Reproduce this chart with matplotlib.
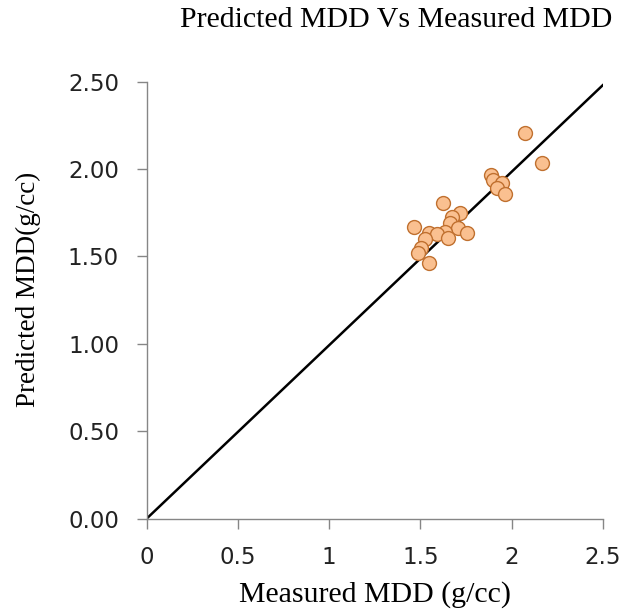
import numpy as np
import matplotlib.pyplot as plt

# measured vs predicted MDD (g/cc)
measured = [2.075, 2.166, 1.886, 1.901, 1.947, 1.922, 1.965, 1.625, 1.719, 1.673, 1.664,
            1.466, 1.709, 1.636, 1.550, 1.591, 1.755, 1.654, 1.527, 1.503, 1.488, 1.550]
predicted = [2.208, 2.033, 1.966, 1.938, 1.919, 1.892, 1.855, 1.806, 1.750, 1.724, 1.690,
             1.666, 1.661, 1.641, 1.636, 1.628, 1.634, 1.604, 1.598, 1.546, 1.517, 1.464]
line_x = [0, 2.5]
line_y = [0, 2.48]
xticks = [0, 0.5, 1, 1.5, 2, 2.5]
xtick_labels = ['0', '0.5', '1', '1.5', '2', '2.5']
yticks = [0, 0.5, 1.0, 1.5, 2.0, 2.5]
ytick_labels = ['0.00', '0.50', '1.00', '1.50', '2.00', '2.50']

fig = plt.figure(figsize=(6.22, 6.10), dpi=100)
ax = fig.add_axes([0.236, 0.150, 0.733, 0.716])

ax.plot(line_x, line_y, color='black', lw=1.8, zorder=2)
ax.plot(measured, predicted, 'o', ms=10, mfc='#fac090', mec='#c0702f', mew=1.0, zorder=3)

ax.set_xlim(0, 2.5)
ax.set_ylim(0, 2.5)
ax.set_xticks(xticks)
ax.set_xticklabels(xtick_labels)
ax.set_yticks(yticks)
ax.set_yticklabels(ytick_labels)

for s in ['top', 'right']:
    ax.spines[s].set_visible(False)
for s in ['left', 'bottom']:
    ax.spines[s].set_color('#868686')
    ax.spines[s].set_linewidth(1.0)
ax.tick_params(direction='out', length=7, width=1.0, color='#868686',
               labelsize=16.5, labelcolor='#222222', pad=13)

serif = ['Liberation Serif', 'DejaVu Serif']
fig.text(0.637, 0.967, 'Predicted MDD Vs Measured MDD', ha='center', va='center',
         family=serif, fontsize=21.5)
fig.text(0.603, 0.025, 'Measured MDD (g/cc)', ha='center', va='center',
         family=serif, fontsize=21.5)
fig.text(0.045, 0.526, 'Predicted MDD(g/cc)', ha='center', va='center', rotation=90,
         family=serif, fontsize=19.5)

fig.savefig('out.png', dpi=100)
